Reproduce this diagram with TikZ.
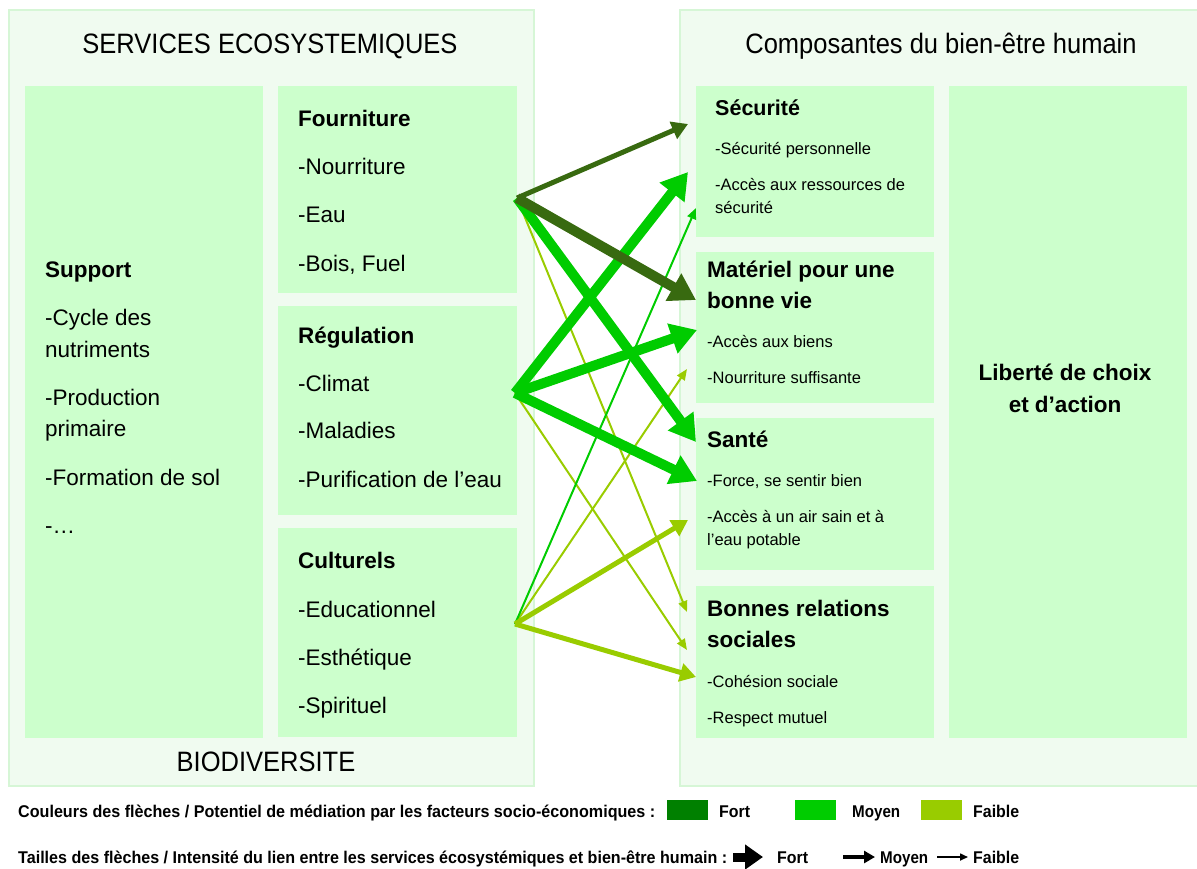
\documentclass[tikz,border=0pt]{standalone}
\usepackage{fontspec}
\setmainfont{Liberation Sans}
\usepackage{graphicx}
\usetikzlibrary{arrows.meta}
\definecolor{panelfill}{HTML}{F0FBF0}
\definecolor{panelline}{HTML}{D6F6D6}
\definecolor{boxfill}{HTML}{CCFFCC}
\definecolor{cfort}{HTML}{386A10}
\definecolor{cfortleg}{HTML}{008000}
\definecolor{cmoyen}{HTML}{00CC00}
\definecolor{cfaible}{HTML}{99CC00}
\begin{document}
\begin{tikzpicture}[x=1pt,y=-1pt,
  panel/.style={draw=panelline, line width=2pt, fill=panelfill, inner sep=0pt, anchor=north west},
  box/.style={fill=boxfill, inner sep=0pt, anchor=north west},
  ttl/.style={inner sep=0pt, anchor=base, font=\fontsize{25.5}{25.5}\selectfont},
  hd/.style={inner sep=0pt, anchor=base west, font=\fontsize{22.5}{22.5}\selectfont\bfseries},
  it/.style={inner sep=0pt, anchor=base west, font=\fontsize{22.5}{22.5}\selectfont},
  sm/.style={inner sep=0pt, anchor=base west, font=\fontsize{16.5}{16.5}\selectfont},
  leg/.style={inner sep=0pt, anchor=base west, font=\fontsize{17}{17}\selectfont\bfseries},
  bigarr/.style={line width=10pt, -{Triangle[length=26pt,width=30pt]}},
  midarr/.style={line width=5pt, -{Triangle[length=16pt,width=18pt]}},
  thinarr/.style={line width=2pt, -{Triangle[length=11pt,width=9pt]}},
  legbox/.style={inner sep=0pt, anchor=north west, minimum width=41pt, minimum height=20pt}
]
\useasboundingbox (0,0) rectangle (1197,868);

% panels
\node[panel, minimum width=525pt, minimum height=776pt] (leftpanel) at (8,9) {};
\node[panel, minimum width=530pt, minimum height=776pt] (rightpanel) at (679,9) {};

% left boxes
\node[box, minimum width=238pt, minimum height=652pt] (support) at (25,86) {};
\node[box, minimum width=239pt, minimum height=207pt] (fourn) at (278,86) {};
\node[box, minimum width=239pt, minimum height=209pt] (regul) at (278,306) {};
\node[box, minimum width=239pt, minimum height=209pt] (cult) at (278,528) {};

% right boxes
\node[box, minimum width=238pt, minimum height=151pt] (secu) at (696,86) {};
\node[box, minimum width=238pt, minimum height=151pt] (mat) at (696,252) {};
\node[box, minimum width=238pt, minimum height=152pt] (sante) at (696,418) {};
\node[box, minimum width=238pt, minimum height=152pt] (rel) at (696,586) {};
\node[box, minimum width=238pt, minimum height=652pt] (lib) at (949,86) {};

% titles
\node[ttl] (t1) at (270,53) {\scalebox{1}[1.1]{SERVICES ECOSYSTEMIQUES}};
\node[ttl] (t2) at (266,771) {\scalebox{1}[1.1]{BIODIVERSITE}};
\node[ttl] (t3) at (941,53) {\scalebox{1}[1.1]{Composantes du bien-être humain}};

% support
\node[hd] (s0) at (45,277) {Support};
\node[it] (s1) at (45,325) {-Cycle des};
\node[it] (s2) at (45,357) {nutriments};
\node[it] (s3) at (45,405) {-Production};
\node[it] (s4) at (45,436) {primaire};
\node[it] (s5) at (45,485) {-Formation de sol};
\node[it] (s6) at (45,533) {-…};

% fourniture
\node[hd] (f0) at (298,126) {Fourniture};
\node[it] (f1) at (298,174) {-Nourriture};
\node[it] (f2) at (298,222) {-Eau};
\node[it] (f3) at (298,271) {-Bois, Fuel};

% regulation
\node[hd] (r0) at (298,343) {Régulation};
\node[it] (r1) at (298,391) {-Climat};
\node[it] (r2) at (298,438) {-Maladies};
\node[it] (r3) at (298,487) {-Purification de l’eau};

% culturels
\node[hd] (c0) at (298,568) {Culturels};
\node[it] (c1) at (298,617) {-Educationnel};
\node[it] (c2) at (298,665) {-Esthétique};
\node[it] (c3) at (298,713) {-Spirituel};

% securite
\node[hd, font=\fontsize{21.5}{21.5}\selectfont\bfseries] (e0) at (715,115) {Sécurité};
\node[sm] (e1) at (715,154) {-Sécurité personnelle};
\node[sm] (e2) at (715,190) {-Accès aux ressources de};
\node[sm] (e3) at (715,213) {sécurité};

% materiel
\node[hd] (m0) at (707,277) {Matériel pour une};
\node[hd] (m1) at (707,308) {bonne vie};
\node[sm] (m2) at (707,347) {-Accès aux biens};
\node[sm] (m3) at (707,383) {-Nourriture suffisante};

% sante
\node[hd] (a0) at (707,447) {Santé};
\node[sm] (a1) at (707,486) {-Force, se sentir bien};
\node[sm] (a2) at (707,522) {-Accès à un air sain et à};
\node[sm] (a3) at (707,545) {l’eau potable};

% relations
\node[hd] (b0) at (707,616) {Bonnes relations};
\node[hd] (b1) at (707,647) {sociales};
\node[sm] (b2) at (707,687) {-Cohésion sociale};
\node[sm] (b3) at (707,723) {-Respect mutuel};

% liberte
\node[hd, anchor=base] (l0) at (1065,380) {Liberté de choix};
\node[hd, anchor=base] (l1) at (1065,412) {et d’action};

% arrow end points
\coordinate (srcF) at (517,198);
\coordinate (srcR) at (515,393);
\coordinate (srcC) at (515,624);
\coordinate (tS1) at (688,124);
\coordinate (tM1) at (696,300);
\coordinate (tA1) at (696,442);
\coordinate (tB1) at (687,612);
\coordinate (tS2) at (688,172);
\coordinate (tM2) at (697,330);
\coordinate (tA2) at (697,481);
\coordinate (tB2) at (687,650);
\coordinate (tS3) at (696,208);
\coordinate (tM3) at (687,369);
\coordinate (tA3) at (688,520);
\coordinate (tB3) at (696,677);

% arrows
\draw[thinarr, cfaible] (srcF) -- (tB1);
\draw[thinarr, cfaible] (srcR) -- (tB2);
\draw[thinarr, cfaible] (srcC) -- (tM3);
\draw[thinarr, cmoyen] (srcC) -- (tS3);
\draw[midarr, cfaible] (srcC) -- (tA3);
\draw[midarr, cfaible] (srcC) -- (tB3);
\draw[bigarr, cmoyen] (srcR) -- (tS2);
\draw[bigarr, cmoyen] (srcR) -- (tM2);
\draw[bigarr, cmoyen] (srcR) -- (tA2);
\draw[bigarr, cmoyen] (srcF) -- (tA1);
\draw[midarr, cfort] (srcF) -- (tS1);
\draw[bigarr, cfort] (srcF) -- (tM1);

% legend row 1
\node[leg] (lg1) at (18,817) {\resizebox{637pt}{\height}{Couleurs des flèches / Potentiel de médiation par les facteurs socio-économiques :}};
\node[legbox, fill=cfortleg] (lbf) at (667,800) {};
\node[leg] (lf) at (719,817) {\resizebox{31pt}{\height}{Fort}};
\node[legbox, fill=cmoyen] (lbm) at (795,800) {};
\node[leg] (lm) at (852,817) {\resizebox{48pt}{\height}{Moyen}};
\node[legbox, fill=cfaible] (lbw) at (921,800) {};
\node[leg] (lw) at (973,817) {\resizebox{46pt}{\height}{Faible}};

% legend row 2
\node[leg] (lg2) at (18,863) {\resizebox{709pt}{\height}{Tailles des flèches / Intensité du lien entre les services écosystémiques et bien-être humain :}};
\coordinate (a1s) at (733,857);
\coordinate (a1e) at (763,857);
\coordinate (a2s) at (843,857);
\coordinate (a2e) at (875,857);
\coordinate (a3s) at (937,857);
\coordinate (a3e) at (968,857);
\draw[line width=9pt, -{Triangle[length=18pt,width=24pt]}] (a1s) -- (a1e);
\draw[line width=4pt, -{Triangle[length=11pt,width=12pt]}] (a2s) -- (a2e);
\draw[line width=1.6pt, -{Triangle[length=8pt,width=7pt]}] (a3s) -- (a3e);
\node[leg] (lf2) at (777,863) {\resizebox{31pt}{\height}{Fort}};
\node[leg] (lm2) at (880,863) {\resizebox{48pt}{\height}{Moyen}};
\node[leg] (lw2) at (973,863) {\resizebox{46pt}{\height}{Faible}};
\end{tikzpicture}
\end{document}
